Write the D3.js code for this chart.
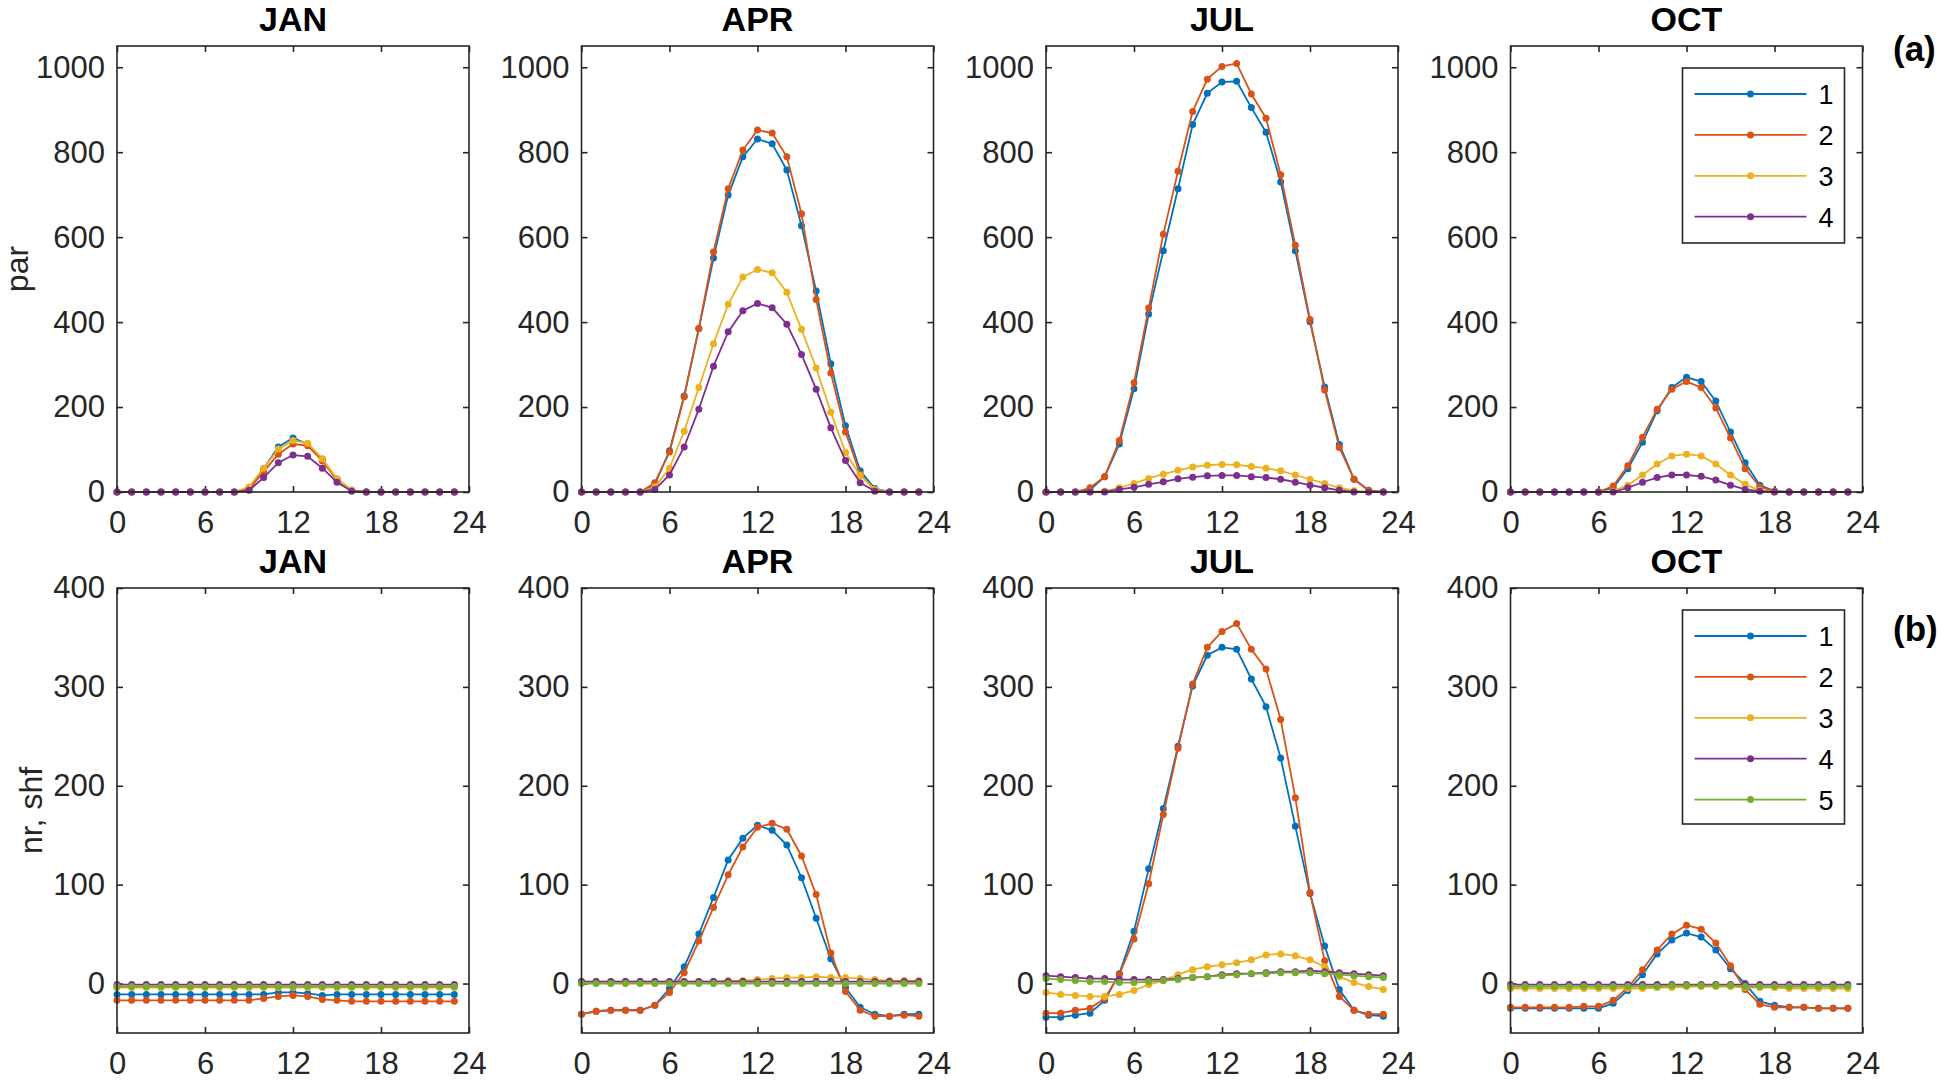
<!DOCTYPE html>
<html>
<head>
<meta charset="utf-8">
<script src="https://cdn.jsdelivr.net/npm/d3@7"></script>
<style>
  body { margin: 0; background: #fff; }
  text { font-family: "Liberation Sans", Arial, Helvetica, sans-serif; fill: #262626; }
</style>
</head>
<body>
<div id="chart"></div>
<script>
// ---- data ----
const months = ["JAN", "APR", "JUL", "OCT"]
const hours = [0,1,2,3,4,5,6,7,8,9,10,11,12,13,14,15,16,17,18,19,20,21,22,23]
const seriesNames = ["1", "2", "3", "4", "5"]
const colors = ["#0072BD", "#D95319", "#EDB120", "#7E2F8E", "#77AC30"]

const xTicks = [0, 6, 12, 18, 24]
const parTicks = [0, 200, 400, 600, 800, 1000]
const nrTicks = [0, 100, 200, 300, 400]

// par, series 1-4
const parJan = [
  [0,0,0,0,0,0,0,0,0,8,55,106,127,113,77,30,4,0,0,0,0,0,0,0],
  [0,0,0,0,0,0,0,0,0,6,48,89,113,109,73,28,4,0,0,0,0,0,0,0],
  [0,0,0,0,0,0,0,0,0,12,56,101,121,115,78,31,4,0,0,0,0,0,0,0],
  [0,0,0,0,0,0,0,0,0,4,34,69,87,84,56,23,2,0,0,0,0,0,0,0]
]
const parApr = [
  [0,0,0,0,0,18,97,226,385,551,699,789,831,820,758,627,473,302,156,50,8,0,0,0],
  [0,0,0,0,0,22,94,224,385,565,714,805,852,845,789,655,453,280,141,42,5,0,0,0],
  [0,0,0,0,0,12,56,143,246,349,442,506,524,516,470,383,292,188,93,39,6,0,0,0],
  [0,0,0,0,0,6,40,106,195,296,377,427,444,434,395,324,242,151,74,22,2,0,0,0]
]
const parJul = [
  [0,0,0,5,36,113,243,419,568,714,865,939,965,967,905,847,730,568,401,247,112,30,4,0],
  [0,0,0,10,36,121,257,433,607,755,896,972,1002,1009,937,880,747,581,406,240,105,30,4,0],
  [0,0,0,0,2,10,20,32,42,51,59,63,65,64,60,56,50,40,30,20,10,3,0,0],
  [0,0,0,0,0,6,11,18,24,31,35,38,39,39,36,34,30,23,16,10,4,0,0,0]
]
const parOct = [
  [0,0,0,0,0,0,0,10,55,117,191,246,270,260,214,141,69,16,2,0,0,0,0,0],
  [0,0,0,0,0,0,0,14,62,129,195,242,260,246,198,127,55,12,2,0,0,0,0,0],
  [0,0,0,0,0,0,0,2,16,40,66,85,89,85,66,40,18,4,0,0,0,0,0,0],
  [0,0,0,0,0,0,0,0,10,23,34,40,40,37,28,16,6,2,0,0,0,0,0,0]
]

// nr, shf, series 1-5
const nrJan = [
  [-11,-11,-11,-11,-11,-11,-11,-11,-11,-11,-11,-9,-9,-10,-12,-11,-11,-11,-11,-11,-11,-11,-11,-11],
  [-17,-17,-17,-17,-17,-17,-17,-17,-17,-17,-15,-13,-12,-13,-16,-17,-18,-18,-18,-18,-18,-18,-18,-18],
  [-4,-4,-4,-4,-4,-4,-4,-4,-4,-4,-4,-4,-4,-4,-4,-4,-4,-4,-4,-4,-4,-4,-4,-4],
  [-1,-1,-1,-1,-1,-1,-1,-1,-1,-1,-1,-1,-1,-1,-1,-1,-1,-1,-1,-1,-1,-1,-1,-1],
  [-3,-3,-3,-3,-3,-3,-3,-3,-3,-3,-3,-3,-3,-3,-3,-3,-3,-3,-3,-3,-3,-3,-3,-3]
]
const nrApr = [
  [-31,-28,-27,-27,-27,-22,-5,17,50,87,125,147,160,155,140,107,66,25,-4,-24,-31,-33,-31,-31],
  [-31,-28,-27,-27,-27,-22,-9,11,43,77,110,138,158,162,156,129,90,31,-8,-27,-33,-33,-32,-33],
  [2,2,2,2,2,2,2,2,2,2,3,3,4,5,6,6,7,6,6,5,4,3,3,3],
  [2,2,2,2,2,2,2,2,2,2,2,2,2,2,2,2,2,2,2,2,2,2,2,2],
  [0,0,0,0,0,0,0,0,0,0,0,0,0,0,0,0,0,0,0,0,0,0,0,0]
]
const nrJul = [
  [-34,-34,-32,-30,-17,10,53,116,177,240,301,332,340,338,308,280,228,159,91,38,-6,-27,-32,-33],
  [-30,-30,-27,-25,-15,9,45,101,171,238,303,340,356,364,338,318,267,188,92,23,-13,-27,-31,-31],
  [-9,-11,-12,-13,-13,-11,-7,-1,3,9,14,17,19,21,24,29,30,28,24,17,7,1,-3,-6],
  [8,7,6,5,5,4,4,4,4,5,6,7,9,10,10,11,12,12,13,12,11,10,9,8],
  [5,4,3,2,2,1,1,2,3,4,6,7,8,9,10,10,11,11,11,10,9,8,7,6]
]
const nrOct = [
  [-25,-25,-25,-25,-25,-25,-25,-20,-7,9,30,44,51,47,34,15,0,-18,-22,-24,-24,-25,-25,-25],
  [-24,-24,-24,-24,-24,-23,-23,-17,-4,14,34,50,59,55,41,18,-6,-21,-24,-24,-24,-25,-25,-25],
  [-5,-5,-5,-5,-5,-5,-5,-5,-5,-5,-4,-4,-3,-3,-3,-3,-4,-4,-4,-5,-5,-5,-5,-5],
  [-1,-1,-1,-1,-1,-1,-1,-1,-1,-1,-1,-1,-1,-1,-1,-1,-1,-1,-1,-1,-1,-1,-1,-1],
  [-3,-3,-3,-3,-3,-3,-3,-3,-3,-3,-3,-2,-2,-2,-2,-2,-3,-3,-3,-3,-3,-3,-3,-3]
]

const parData = [parJan, parApr, parJul, parOct]
const nrData = [nrJan, nrApr, nrJul, nrOct]

// ---- layout ----
const width = 1941
const height = 1080
const panelLeft = [117, 581.5, 1046, 1510.5]
const panelWidth = 352
const rows = [
  { top: 46, bottom: 492, domain: [0, 1050], ticks: parTicks, data: parData, ylabel: "par", labelX: 28, tag: "(a)", tagY: 61, nSeries: 4 },
  { top: 588, bottom: 1033, domain: [-50, 400], ticks: nrTicks, data: nrData, ylabel: "nr, shf", labelX: 42, tag: "(b)", tagY: 641, nSeries: 5 }
]
const axisColor = "#262626"

const svg = d3.select("div#chart").append("svg").attr("width", width).attr("height", height)
svg.append("rect").attr("width", width).attr("height", height).attr("fill", "#fff")

const x = d3.scaleLinear().domain([0, 24]).range([0, panelWidth])

rows.forEach((row, r) => {
  const ph = row.bottom - row.top
  const y = d3.scaleLinear().domain(row.domain).range([ph, 0])
  const line = d3.line().x((d, i) => x(hours[i])).y(d => y(d))

  months.forEach((month, m) => {
    const g = svg.append("g").attr("transform", `translate(${panelLeft[m]}, ${row.top})`)

    // mirrored tick marks on all four sides, pointing inward
    const axes = [
      [d3.axisBottom(x).tickValues(xTicks).tickSizeInner(-6).tickSizeOuter(0).tickPadding(19).tickFormat(d3.format("d")), `translate(0, ${ph})`],
      [d3.axisTop(x).tickValues(xTicks).tickSizeInner(-6).tickSizeOuter(0).tickFormat(""), "translate(0, 0)"],
      [d3.axisLeft(y).tickValues(row.ticks).tickSizeInner(-6).tickSizeOuter(0).tickPadding(12).tickFormat(d3.format("d")), "translate(0, 0)"],
      [d3.axisRight(y).tickValues(row.ticks).tickSizeInner(-6).tickSizeOuter(0).tickFormat(""), `translate(${panelWidth}, 0)`]
    ]
    axes.forEach(([ax, tr]) => {
      const a = g.append("g").attr("transform", tr).call(ax)
      a.select(".domain").remove()
      a.selectAll("line").attr("stroke", axisColor).attr("stroke-width", 1.6)
      a.selectAll("text").attr("font-size", 31).attr("fill", axisColor)
        .style("font-family", '"Liberation Sans", Arial, sans-serif')
    })

    // series lines with dot markers
    row.data[m].forEach((vals, s) => {
      g.append("path").datum(vals).attr("d", line)
        .attr("fill", "none").attr("stroke", colors[s]).attr("stroke-width", 1.8)
      g.selectAll(null).data(vals).enter().append("circle")
        .attr("cx", (d, i) => x(hours[i])).attr("cy", d => y(d))
        .attr("r", 3.5).attr("fill", colors[s])
    })

    // box
    g.append("rect").attr("width", panelWidth).attr("height", ph)
      .attr("fill", "none").attr("stroke", axisColor).attr("stroke-width", 1.6)

    // title
    g.append("text").attr("x", panelWidth / 2).attr("y", -15)
      .attr("text-anchor", "middle").attr("font-size", 34).attr("font-weight", "bold")
      .style("fill", "#000").text(month)

    if (m === 0) {
      svg.append("text")
        .attr("transform", `translate(${row.labelX}, ${(row.top + row.bottom) / 2}) rotate(-90)`)
        .attr("text-anchor", "middle").attr("font-size", 32).text(row.ylabel)
    }

    // legend in the last panel
    if (m === 3) {
      const lg = g.append("g").attr("transform", "translate(172, 22)")
      const rowH = 40.9
      const boxH = row.nSeries === 4 ? 175 : 214
      lg.append("rect").attr("width", 162).attr("height", boxH)
        .attr("fill", "#fff").attr("stroke", axisColor).attr("stroke-width", 1.6)
      seriesNames.slice(0, row.nSeries).forEach((name, s) => {
        const cy = 26 + s * rowH
        lg.append("line").attr("x1", 12).attr("x2", 124).attr("y1", cy).attr("y2", cy)
          .attr("stroke", colors[s]).attr("stroke-width", 1.8)
        lg.append("circle").attr("cx", 68).attr("cy", cy).attr("r", 3.5).attr("fill", colors[s])
        lg.append("text").attr("x", 136).attr("y", cy + 10).attr("font-size", 27)
          .style("fill", "#000").text(name)
      })
    }
  })

  svg.append("text").attr("x", 1893).attr("y", row.tagY).attr("font-size", 35)
    .attr("font-weight", "bold").style("fill", "#000").text(row.tag)
})
</script>
</body>
</html>
